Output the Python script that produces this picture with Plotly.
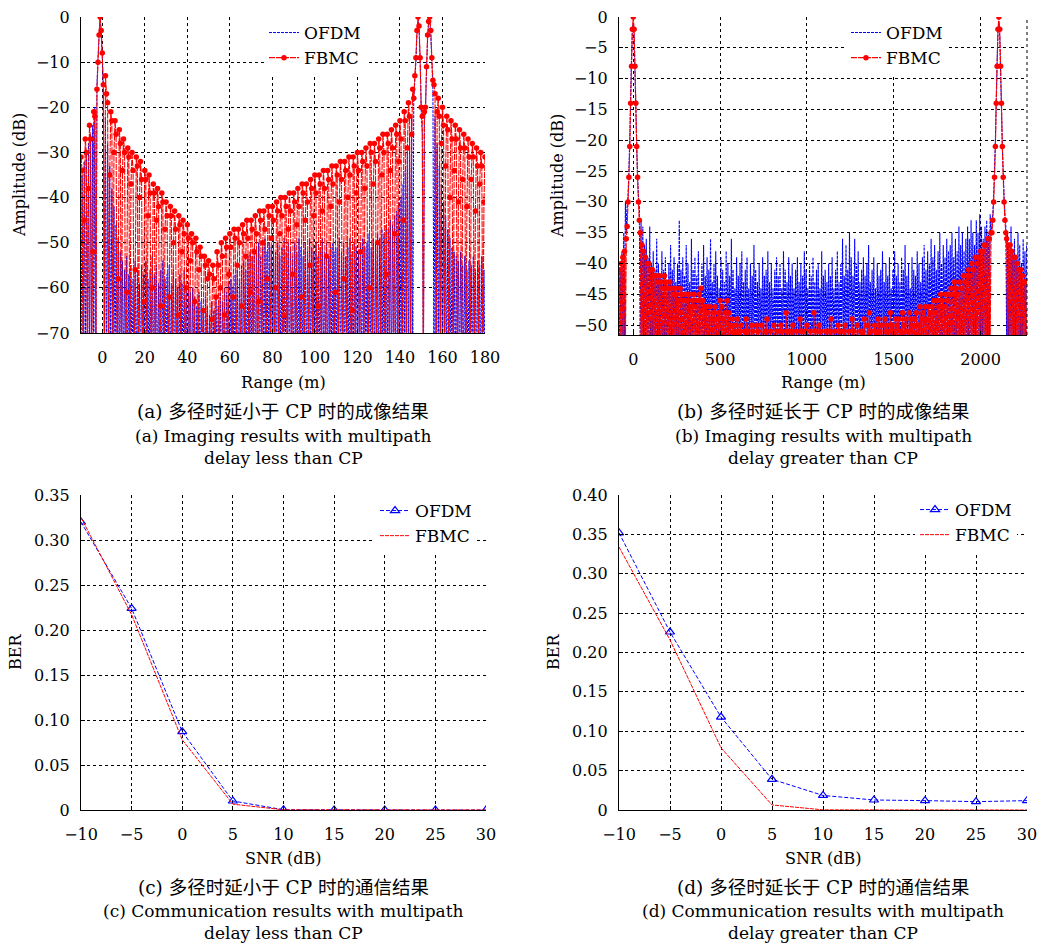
import plotly.graph_objects as go

W, H = 1037, 945
FONT = "DejaVu Serif, Noto Sans CJK SC, serif"

# ---------------- panel (a): multipath delay < CP (0.5 m step, -10 .. 180 m) ----------------
range_a = [-10 + 0.5 * i for i in range(381)]
ofdm_a = [
    -80, -35, -80, -32, -80, -30, -80, -28, -80, -26, -80, -24, -80, -20, -80, -15, -9, -4, 0, -4,
    -9, -16, -80, -22, -80, -28, -80, -33, -80, -38, -80, -42, -80, -46, -80, -49, -80, -52, -80, -54,
    -80, -56, -80, -53, -80, -57, -80, -55, -80, -58, -80, -54, -80, -56, -80, -59, -80, -55, -80, -57,
    -80, -54, -80, -58, -80, -56, -80, -53, -80, -57, -80, -55, -80, -59, -80, -56, -80, -54, -80, -58,
    -80, -57, -80, -55, -80, -59, -80, -56, -80, -58, -80, -60, -80, -57, -80, -59, -80, -56, -80, -60,
    -80, -59, -80, -61, -80, -60, -80, -62, -80, -64, -80, -61, -80, -63, -80, -65, -80, -62, -80, -64,
    -80, -66, -80, -63, -80, -65, -80, -62, -80, -64, -80, -61, -80, -63, -80, -60, -80, -61, -80, -59,
    -80, -58, -80, -60, -80, -57, -80, -56, -80, -58, -80, -55, -80, -54, -80, -56, -80, -53, -80, -52,
    -80, -53, -80, -51, -80, -52, -80, -50, -80, -53, -80, -51, -80, -49, -80, -52, -80, -50, -80, -51,
    -80, -49, -80, -52, -80, -50, -80, -53, -80, -51, -80, -49, -80, -52, -80, -50, -80, -51, -80, -53,
    -80, -50, -80, -52, -80, -49, -80, -51, -80, -53, -80, -50, -80, -52, -80, -49, -80, -51, -80, -52,
    -80, -50, -80, -53, -80, -51, -80, -49, -80, -52, -80, -50, -80, -53, -80, -51, -80, -50, -80, -52,
    -80, -51, -80, -49, -80, -52, -80, -50, -80, -53, -80, -51, -80, -49, -80, -52, -80, -50, -80, -51,
    -80, -52, -80, -50, -80, -49, -80, -51, -80, -50, -80, -48, -80, -51, -80, -49, -80, -50, -80, -48,
    -80, -49, -80, -47, -80, -48, -80, -46, -80, -47, -80, -45, -80, -46, -80, -44, -80, -43, -80, -41,
    -80, -40, -80, -37, -80, -34, -80, -30, -80, -26, -80, -22, -80, -18, -14, -10, -4, -1, -3, -10,
    -21, -26, -80, -23, -21, -12, -5, -1, -1, -4, -10, -16, -80, -22, -80, -28, -80, -33, -80, -37,
    -80, -41, -80, -44, -80, -47, -80, -49, -80, -51, -80, -52, -80, -53, -80, -54, -80, -52, -80, -55,
    -80, -53, -80, -56, -80, -54, -80, -55, -80, -53, -80, -56, -80, -54, -80, -55, -80, -53, -80, -56,
    -80]
fbmc_a = [
    -31, -34, -80, -45, -27, -30, -80, -38, -24, -27, -80, -52, -21, -22, -80, -16, -10, -4, 0, -3,
    -8, -15, -80, -13, -17, -19, -80, -35, -21, -23, -80, -30, -23, -26, -80, -58, -25, -28, -80, -34,
    -27, -30, -80, -61, -29, -31, -80, -37, -30, -34, -80, -56, -31, -33, -80, -40, -32, -36, -80, -63,
    -34, -36, -80, -44, -35, -39, -80, -60, -37, -39, -80, -45, -38, -42, -80, -64, -39, -41, -80, -47,
    -41, -44, -80, -62, -42, -44, -80, -50, -43, -47, -80, -66, -44, -46, -80, -52, -45, -48, -80, -60,
    -46, -49, -80, -54, -48, -50, -80, -63, -49, -52, -80, -56, -51, -53, -80, -65, -53, -55, -80, -58,
    -54, -57, -80, -67, -55, -58, -80, -62, -52, -55, -80, -60, -50, -53, -80, -66, -49, -51, -80, -57,
    -48, -51, -80, -62, -47, -49, -80, -55, -47, -50, -80, -64, -46, -48, -80, -53, -45, -49, -80, -61,
    -45, -47, -80, -52, -44, -48, -80, -63, -43, -45, -80, -50, -43, -47, -80, -58, -42, -44, -80, -49,
    -42, -45, -80, -60, -41, -43, -80, -48, -40, -44, -80, -66, -40, -42, -80, -47, -39, -43, -80, -57,
    -39, -41, -80, -46, -38, -42, -80, -62, -37, -39, -80, -45, -37, -41, -80, -55, -36, -38, -80, -44,
    -35, -39, -80, -64, -35, -37, -80, -43, -34, -38, -80, -53, -34, -36, -80, -42, -33, -37, -80, -61,
    -33, -35, -80, -41, -32, -36, -80, -58, -32, -34, -80, -40, -31, -35, -80, -65, -31, -33, -80, -39,
    -30, -34, -80, -52, -30, -32, -80, -38, -29, -33, -80, -60, -28, -30, -80, -37, -28, -32, -80, -50,
    -27, -29, -80, -35, -26, -30, -80, -57, -26, -28, -80, -34, -25, -29, -80, -48, -24, -26, -80, -32,
    -23, -27, -80, -45, -21, -23, -80, -29, -19, -22, -80, -26, -16, -18, -13, -9, -3, 0, -2, -9,
    -20, -22, -80, -21, -20, -11, -4, -1, 0, -3, -9, -14, -15, -17, -80, -21, -18, -22, -80, -28,
    -20, -24, -80, -33, -22, -25, -80, -40, -23, -27, -80, -34, -24, -27, -80, -41, -25, -29, -80, -36,
    -26, -29, -80, -42, -27, -31, -80, -36, -28, -31, -80, -43, -29, -33, -80, -37, -30, -33, -80, -41,
    -31]

# ---------------- panel (b): multipath delay > CP (5 m step, -80 .. 2265 m) ----------------
range_b = list(range(-80, 2266, 5))
ofdm_b = [
    -53, -41, -53, -38, -53, -35, -53, -30, -35, -31, -29, -25, -20, -13, -7, -2, -1, -3, -9, -15,
    -21, -26, -29, -31, -53, -33, -53, -34, -53, -37, -53, -36, -53, -39, -53, -34, -53, -40, -53, -38,
    -53, -41, -53, -36, -53, -40, -53, -42, -53, -38, -53, -41, -53, -39, -53, -43, -53, -40, -53, -37,
    -53, -41, -53, -39, -53, -43, -53, -40, -53, -33, -53, -41, -53, -39, -53, -42, -53, -37, -53, -40,
    -53, -43, -53, -36, -53, -41, -53, -39, -53, -42, -53, -38, -53, -44, -53, -40, -53, -37, -53, -42,
    -53, -39, -53, -41, -53, -36, -53, -43, -53, -40, -53, -38, -53, -42, -53, -44, -53, -39, -53, -41,
    -53, -43, -53, -38, -53, -40, -53, -42, -53, -36, -53, -41, -53, -44, -53, -39, -53, -42, -53, -40,
    -53, -38, -53, -43, -53, -41, -53, -39, -53, -44, -53, -40, -53, -42, -53, -37, -53, -41, -53, -43,
    -53, -40, -53, -44, -53, -39, -53, -42, -53, -41, -53, -38, -53, -43, -53, -40, -53, -44, -53, -41,
    -53, -39, -53, -42, -53, -40, -53, -44, -53, -38, -53, -41, -53, -43, -53, -39, -53, -42, -53, -40,
    -53, -44, -53, -41, -53, -39, -53, -43, -53, -40, -53, -42, -53, -38, -53, -41, -53, -44, -53, -40,
    -53, -42, -53, -39, -53, -43, -53, -41, -53, -40, -53, -44, -53, -38, -53, -42, -53, -41, -53, -43,
    -53, -40, -53, -42, -53, -39, -53, -44, -53, -41, -53, -38, -53, -43, -53, -40, -53, -36, -53, -42,
    -53, -37, -53, -41, -53, -35, -53, -39, -53, -42, -53, -36, -53, -40, -53, -38, -53, -43, -53, -41,
    -53, -39, -53, -42, -53, -40, -53, -37, -53, -43, -53, -41, -53, -39, -53, -44, -53, -40, -53, -42,
    -53, -41, -53, -38, -53, -43, -53, -40, -53, -42, -53, -39, -53, -44, -53, -41, -53, -38, -53, -42,
    -53, -40, -53, -43, -53, -39, -53, -41, -53, -37, -53, -42, -53, -40, -53, -44, -53, -39, -53, -41,
    -53, -42, -53, -38, -53, -40, -53, -43, -53, -39, -53, -37, -53, -41, -53, -38, -53, -40, -53, -36,
    -53, -39, -53, -37, -53, -41, -53, -38, -53, -35, -53, -40, -53, -37, -53, -39, -53, -36, -53, -38,
    -53, -37, -53, -35, -53, -39, -53, -36, -53, -38, -53, -34, -53, -37, -53, -35, -53, -38, -53, -36,
    -53, -34, -53, -36, -53, -33, -53, -35, -53, -37, -53, -33, -53, -35, -53, -32, -53, -34, -53, -36,
    -53, -34, -53, -33, -53, -35, -53, -32, -35, -34, -32, -29, -25, -20, -13, -7, -2, -1, -3, -9,
    -15, -21, -25, -29, -32, -34, -53, -35, -53, -37, -53, -34, -53, -38, -53, -36, -53, -39, -53, -35,
    -53, -37, -53, -40, -53, -36, -53, -38, -53, -37]
fbmc_b = [
    -41, -53, -40, -53, -39, -53, -38, -53, -36, -34, -30, -26, -21, -14, -8, -2, 0, -2, -8, -14,
    -21, -26, -30, -33, -35, -53, -37, -53, -38, -53, -39, -53, -40, -53, -40, -53, -41, -53, -41, -53,
    -42, -53, -42, -53, -43, -53, -42, -53, -43, -53, -44, -53, -42, -53, -43, -53, -44, -53, -43, -53,
    -44, -53, -45, -53, -44, -53, -45, -53, -46, -53, -44, -53, -45, -53, -46, -53, -45, -53, -46, -53,
    -45, -53, -47, -53, -46, -53, -45, -53, -47, -53, -46, -53, -45, -53, -44, -53, -46, -53, -47, -53,
    -47, -53, -48, -53, -47, -53, -49, -53, -48, -53, -47, -53, -49, -53, -48, -53, -46, -53, -47, -53,
    -49, -53, -48, -53, -46, -53, -48, -53, -50, -53, -49, -53, -51, -53, -50, -53, -49, -53, -51, -53,
    -50, -53, -52, -53, -51, -53, -49, -53, -51, -53, -52, -53, -50, -53, -51, -53, -52, -53, -50, -53,
    -51, -53, -52, -53, -50, -53, -52, -53, -51, -53, -49, -53, -52, -53, -51, -53, -52, -53, -50, -53,
    -52, -53, -51, -53, -52, -53, -50, -53, -51, -53, -52, -53, -48, -53, -51, -53, -52, -53, -51, -53,
    -50, -53, -52, -53, -51, -53, -52, -53, -49, -53, -51, -53, -52, -53, -51, -53, -50, -53, -52, -53,
    -51, -53, -52, -53, -48, -53, -51, -53, -52, -53, -50, -53, -51, -53, -52, -53, -52, -53, -51, -53,
    -52, -53, -51, -53, -49, -53, -52, -53, -51, -53, -52, -53, -50, -53, -51, -53, -52, -53, -51, -53,
    -50, -53, -52, -53, -51, -53, -52, -53, -49, -53, -51, -53, -52, -53, -50, -53, -52, -53, -51, -53,
    -51, -53, -49, -53, -52, -53, -50, -53, -48, -53, -51, -53, -52, -53, -50, -53, -51, -53, -49, -53,
    -51, -53, -50, -53, -52, -53, -49, -53, -50, -53, -51, -53, -48, -53, -50, -53, -51, -53, -49, -53,
    -50, -53, -49, -53, -51, -53, -48, -53, -50, -53, -49, -53, -51, -53, -48, -53, -49, -53, -50, -53,
    -49, -53, -48, -53, -50, -53, -47, -53, -49, -53, -48, -53, -47, -53, -49, -53, -47, -53, -48, -53,
    -47, -53, -46, -53, -48, -53, -46, -53, -47, -53, -45, -53, -46, -53, -47, -53, -45, -53, -46, -53,
    -45, -53, -44, -53, -45, -53, -43, -53, -44, -53, -45, -53, -43, -53, -44, -53, -42, -53, -43, -53,
    -42, -53, -41, -53, -42, -53, -40, -53, -41, -53, -39, -53, -40, -53, -39, -53, -38, -53, -38, -53,
    -37, -53, -37, -53, -36, -53, -36, -53, -35, -35, -33, -30, -26, -21, -14, -8, -2, 0, -2, -8,
    -14, -21, -26, -30, -33, -35, -36, -53, -37, -53, -37, -53, -38, -53, -39, -53, -39, -53, -40, -53,
    -41, -53, -41, -53, -42, -53, -43, -53, -43, -53]

# ---------------- panels (c), (d): BER vs SNR ----------------
snr_db = [-10, -5, 0, 5, 10, 15, 20, 25, 30]
ber_c_ofdm = [0.320, 0.224, 0.087, 0.010, 0.0003, 0.0, 0.0, 0.0, 0.0]
ber_c_fbmc = [0.325, 0.217, 0.078, 0.0065, 0.0002, 0.0, 0.0, 0.0, 0.0]
ber_d_ofdm = [0.352, 0.226, 0.118, 0.039, 0.0185, 0.0127, 0.0119, 0.0106, 0.0119]
ber_d_fbmc = [0.334, 0.216, 0.079, 0.0064, 0.0002, 0.0, 0.0, 0.0, 0.0]

ticks_a_x = list(range(0, 181, 20))
ticks_a_y = list(range(-70, 1, 10))
ticks_b_x = [0, 500, 1000, 1500, 2000]
ticks_b_y = list(range(-50, 1, 5))
ticks_c_y = [0, 0.05, 0.10, 0.15, 0.20, 0.25, 0.30, 0.35]
ticks_c_txt = ["0", "0.05", "0.10", "0.15", "0.20", "0.25", "0.30", "0.35"]
ticks_d_y = [0, 0.05, 0.10, 0.15, 0.20, 0.25, 0.30, 0.35, 0.40]
ticks_d_txt = ["0", "0.05", "0.10", "0.15", "0.20", "0.25", "0.30", "0.35", "0.40"]

captions = {
    "a": ["(a) 多径时延小于 CP 时的成像结果", "(a) Imaging results with multipath", "delay less than CP"],
    "b": ["(b) 多径时延长于 CP 时的成像结果", "(b) Imaging results with multipath", "delay greater than CP"],
    "c": ["(c) 多径时延小于 CP 时的通信结果", "(c) Communication results with multipath", "delay less than CP"],
    "d": ["(d) 多径时延长于 CP 时的通信结果", "(d) Communication results with multipath", "delay greater than CP"],
}

BLUE = "#0000ff"
RED = "#ff0000"


def dom_x(a, b):
    return [a / W, b / W]


def dom_y(top, bottom):
    return [1 - bottom / H, 1 - top / H]


fig = go.Figure()

# (a)
fig.add_trace(go.Scatter(x=range_a, y=ofdm_a, mode="lines", name="OFDM",
                         line=dict(color=BLUE, width=1, dash="3px,1px", simplify=False),
                         xaxis="x", yaxis="y", legend="legend"))
fig.add_trace(go.Scatter(x=range_a, y=fbmc_a, mode="lines+markers", name="FBMC",
                         line=dict(color=RED, width=1.1, dash="6px,1px", simplify=False),
                         marker=dict(color=RED, size=5.5, symbol="circle"),
                         xaxis="x", yaxis="y", legend="legend"))
# (b)
fig.add_trace(go.Scatter(x=range_b, y=ofdm_b, mode="lines", name="OFDM",
                         line=dict(color=BLUE, width=1.1, dash="3px,1px", simplify=False),
                         xaxis="x2", yaxis="y2", legend="legend2"))
fig.add_trace(go.Scatter(x=range_b, y=fbmc_b, mode="lines+markers", name="FBMC",
                         line=dict(color=RED, width=1.1, dash="6px,1px", simplify=False),
                         marker=dict(color=RED, size=5.5, symbol="circle"),
                         xaxis="x2", yaxis="y2", legend="legend2"))
# (c)
fig.add_trace(go.Scatter(x=snr_db, y=ber_c_ofdm, mode="lines+markers", name="OFDM",
                         line=dict(color=BLUE, width=1, dash="4px,2px"),
                         marker=dict(color=BLUE, size=8, symbol="triangle-up-open", line=dict(width=1.2)),
                         xaxis="x3", yaxis="y3", legend="legend3"))
fig.add_trace(go.Scatter(x=snr_db, y=ber_c_fbmc, mode="lines", name="FBMC",
                         line=dict(color=RED, width=1, dash="4px,1px"),
                         xaxis="x3", yaxis="y3", legend="legend3"))
# (d)
fig.add_trace(go.Scatter(x=snr_db, y=ber_d_ofdm, mode="lines+markers", name="OFDM",
                         line=dict(color=BLUE, width=1, dash="4px,2px"),
                         marker=dict(color=BLUE, size=8, symbol="triangle-up-open", line=dict(width=1.2)),
                         xaxis="x4", yaxis="y4", legend="legend4"))
fig.add_trace(go.Scatter(x=snr_db, y=ber_d_fbmc, mode="lines", name="FBMC",
                         line=dict(color=RED, width=1, dash="4px,1px"),
                         xaxis="x4", yaxis="y4", legend="legend4"))


def ax(domain, rng, tickvals, anchor, is_x, ticktext=None):
    d = dict(domain=domain, range=rng, tickvals=tickvals, anchor=anchor, automargin=False,
             showgrid=True, gridcolor="black", gridwidth=1, griddash="3px,3px",
             showline=True, linecolor="black", linewidth=1.3, mirror=False,
             ticks="inside", ticklen=4, tickcolor="black", zeroline=False,
             ticklabelstandoff=10 if is_x else 7, ticklabeloverflow="allow",
             tickfont=dict(family=FONT, size=16, color="black"))
    if ticktext is not None:
        d["ticktext"] = ticktext
    return d


fig.update_layout(
    width=W, height=H, margin=dict(l=0, r=0, t=0, b=0, autoexpand=False),
    paper_bgcolor="white", plot_bgcolor="white",
    font=dict(family=FONT, color="black"),
    xaxis=ax(dom_x(81, 485), [-10, 180], ticks_a_x, "y", True),
    yaxis=ax(dom_y(17, 333), [-70, 0], ticks_a_y, "x", False),
    xaxis2=ax(dom_x(619, 1027), [-82, 2267], ticks_b_x, "y2", True),
    yaxis2=ax(dom_y(17, 335), [-51.6, 0], ticks_b_y, "x2", False),
    xaxis3=ax(dom_x(81, 486), [-10, 30], snr_db, "y3", True),
    yaxis3=ax(dom_y(495, 810), [0, 0.35], ticks_c_y, "x3", False, ticks_c_txt),
    xaxis4=ax(dom_x(619, 1027), [-10, 30], snr_db, "y4", True),
    yaxis4=ax(dom_y(495, 810), [0, 0.40], ticks_d_y, "x4", False, ticks_d_txt),
    showlegend=True,
)

leg_common = dict(xanchor="left", yanchor="top", bgcolor="white", borderwidth=0,
                  font=dict(family=FONT, size=17, color="black"), tracegroupgap=0,
                  itemwidth=30)
fig.update_layout(
    legend=dict(x=264 / W, y=1 - 15 / H, **leg_common),
    legend2=dict(x=846 / W, y=1 - 15 / H, **leg_common),
    legend3=dict(x=375 / W, y=1 - 493 / H, **leg_common),
    legend4=dict(x=915 / W, y=1 - 492 / H, **leg_common),
)

# dashed right border of panel (b) (no tick there)
fig.add_shape(type="line", xref="x2 domain", yref="y2 domain", x0=1, x1=1, y0=0, y1=1,
              line=dict(color="black", width=1, dash="3px,3px"))

# axis titles
axis_titles = [
    ("Amplitude (dB)", 20, 175, -90), ("Range (m)", 283, 383, 0),
    ("Amplitude (dB)", 558, 176, -90), ("Range (m)", 823, 383, 0),
    ("BER", 15, 652, -90), ("SNR (dB)", 283, 858, 0),
    ("BER", 553, 652, -90), ("SNR (dB)", 823, 858, 0),
]
for txt, px, py, ang in axis_titles:
    fig.add_annotation(text=txt, x=px / W, y=1 - py / H, xref="paper", yref="paper",
                       xanchor="center", yanchor="middle", showarrow=False, textangle=ang,
                       font=dict(family=FONT, size=16, color="black"))

# captions (Chinese line, English lines)
cap_pos = {"a": (283, [412, 436, 458]), "b": (823, [412, 436, 458]),
           "c": (283, [887, 911, 933]), "d": (823, [887, 911, 933])}
cap_sizes = [18.5, 17, 17]
for k, lines in captions.items():
    cx, ys = cap_pos[k]
    for txt, yy, fs in zip(lines, ys, cap_sizes):
        fig.add_annotation(text=txt, x=cx / W, y=1 - yy / H, xref="paper", yref="paper",
                           xanchor="center", yanchor="middle", showarrow=False,
                           font=dict(family=FONT, size=fs, color="black"))

fig.write_html("out.html")
